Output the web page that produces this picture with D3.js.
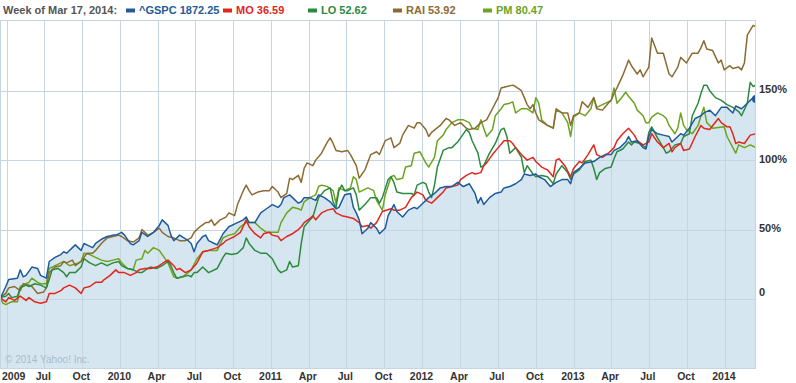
<!DOCTYPE html>
<html>
<head>
<meta charset="utf-8">
<script src="https://cdn.jsdelivr.net/npm/d3@7"></script>
<style>
  body { margin: 0; background: #fff; }
  svg { display: block; font-family: "Liberation Sans", Arial, sans-serif; }
  .grid-line { stroke: #c4d5e3; stroke-width: 1; shape-rendering: crispEdges; }
  .frame { fill: none; stroke: #c4d5e3; shape-rendering: crispEdges; }
  .axis-label { font-size: 10.5px; font-weight: bold; fill: #333; }
  .legend-text { font-size: 11px; font-weight: bold; }
</style>
</head>
<body>
<svg id="chart" width="796" height="383"></svg>
<script>
// weekly data, week 0 = week of Mar 16, 2009; values are % change
const weekStart = new Date(2009, 2, 16);
const weekEnd = new Date(2014, 2, 17);

const gspc = [[0,0],[2,9],[3,14],[6,15],[7,21],[8,16],[9,17],[11,23],[13,22],[14,17],[16,15],[17,27],[19,30],[21,32],[22,34],[23,33],[25,37],[26,39],[28,35],[29,40],[30,39],[32,37],[33,40],[35,43],[37,45],[39,46],[40,46],[42,48],[43,46],[45,40],[46,39],[48,42],[49,48],[51,45],[53,48],[55,53],[56,57],[58,53],[59,46],[60,42],[62,46],[65,42],[66,40],[67,34],[68,40],[70,45],[71,46],[72,42],[74,40],[75,39],[77,47],[79,52],[82,55],[84,57],[85,59],[86,55],[88,55],[90,62],[92,65],[94,68],[96,66],[97,68],[98,73],[100,75],[101,73],[103,69],[104,70],[105,73],[107,73],[109,71],[110,75],[112,73],[114,70],[116,65],[117,66],[119,75],[121,76],[122,66],[123,62],[124,57],[125,47],[127,51],[128,55],[130,51],[131,47],[133,51],[134,60],[136,68],[137,63],[139,59],[141,64],[143,66],[144,65],[146,69],[148,73],[150,76],[152,80],[154,81],[156,81],[158,84],[160,81],[162,83],[164,76],[165,69],[166,73],[167,68],[169,73],[171,76],[173,77],[174,80],[176,81],[178,83],[180,86],[181,90],[183,89],[185,90],[186,88],[188,86],[190,81],[192,84],[194,86],[196,86],[197,83],[198,91],[200,94],[202,98],[205,99],[207,102],[209,104],[211,104],[212,107],[214,109],[216,113],[217,117],[218,113],[220,114],[222,109],[223,108],[224,117],[225,122],[227,119],[229,118],[231,117],[232,113],[234,117],[235,119],[236,118],[238,123],[240,130],[242,132],[243,134],[245,136],[247,132],[249,138],[251,138],[253,134],[254,139],[256,137],[258,141],[260,145],[261,144]];

const mo = [[0,1],[2,-2],[3,1],[5,-1],[7,2],[9,-1],[10,1],[12,-2],[14,-3],[16,-2],[17,4],[19,4],[21,6],[22,8],[24,10],[26,8],[28,4],[29,8],[31,9],[33,12],[35,12],[36,14],[38,17],[40,21],[41,19],[43,19],[45,17],[47,19],[48,21],[50,22],[52,22],[54,23],[55,24],[57,27],[58,28],[60,24],[61,21],[62,22],[64,19],[66,21],[68,26],[70,34],[72,35],[75,37],[77,40],[78,42],[80,44],[81,45],[83,48],[85,57],[86,52],[88,47],[90,44],[91,47],[93,48],[94,46],[96,45],[97,42],[99,45],[101,47],[103,50],[104,52],[105,55],[107,58],[108,60],[109,57],[111,62],[113,64],[115,65],[116,62],[118,60],[120,59],[122,58],[124,55],[125,52],[127,53],[128,51],[130,55],[132,63],[135,65],[136,64],[138,64],[140,66],[142,73],[144,77],[146,75],[147,71],[149,69],[151,73],[153,77],[154,80],[156,81],[158,82],[159,86],[161,89],[163,91],[164,90],[166,91],[167,96],[168,98],[170,104],[172,109],[174,114],[176,114],[177,112],[178,109],[180,104],[181,102],[182,100],[184,102],[185,99],[187,95],[189,93],[191,88],[192,100],[193,101],[195,96],[197,88],[198,94],[200,99],[201,98],[203,104],[205,111],[206,104],[208,102],[210,105],[212,109],[213,114],[215,119],[217,123],[219,118],[220,114],[222,111],[224,113],[225,119],[227,113],[229,109],[231,112],[232,106],[233,109],[235,112],[236,107],[238,108],[240,117],[242,125],[243,123],[245,122],[248,130],[249,127],[251,124],[252,124],[253,119],[254,112],[255,113],[257,112],[259,118],[261,119]];

const lo = [[0,1],[2,2],[3,4],[4,1],[6,2],[7,8],[9,10],[10,9],[12,11],[14,10],[16,8],[17,14],[18,21],[20,22],[22,19],[23,16],[24,19],[26,19],[28,23],[29,29],[31,26],[33,24],[35,26],[37,24],[39,26],[41,27],[42,24],[44,22],[46,21],[48,19],[49,19],[51,22],[52,23],[54,22],[56,24],[58,27],[59,24],[60,19],[61,15],[63,16],[65,17],[66,16],[67,19],[68,19],[70,23],[72,19],[75,22],[77,30],[78,33],[80,32],[82,33],[84,37],[85,44],[86,40],[88,35],[90,33],[92,33],[94,29],[96,21],[97,19],[99,21],[100,27],[101,23],[103,24],[104,40],[105,52],[107,57],[108,59],[109,66],[110,73],[112,78],[114,80],[115,70],[116,66],[117,78],[118,82],[119,78],[120,78],[122,80],[123,75],[124,64],[126,68],[128,73],[130,73],[131,69],[132,73],[134,86],[135,88],[136,84],[137,77],[139,76],[142,76],[143,75],[144,82],[146,84],[147,83],[148,77],[149,73],[150,82],[151,95],[153,107],[155,109],[156,109],[158,113],[159,116],[161,122],[162,120],[163,114],[165,105],[166,95],[167,96],[169,105],[171,112],[173,122],[174,123],[175,117],[176,105],[178,109],[180,102],[181,91],[182,96],[184,90],[185,88],[187,89],[189,88],[191,83],[192,90],[194,96],[196,91],[197,86],[198,90],[200,93],[202,99],[204,100],[205,94],[206,86],[207,91],[209,94],[211,95],[212,101],[213,106],[215,108],[217,113],[218,111],[219,113],[221,112],[223,109],[224,120],[225,124],[227,116],[229,109],[230,105],[231,106],[233,111],[235,112],[236,117],[238,119],[239,132],[241,141],[242,148],[243,154],[244,154],[245,150],[247,145],[249,143],[251,140],[253,138],[255,135],[256,132],[258,141],[259,156],[260,153],[261,154]];

const rai = [[0,1],[2,4],[3,8],[5,9],[7,6],[8,11],[10,10],[11,9],[13,4],[15,5],[16,8],[17,19],[19,23],[21,24],[22,27],[23,26],[25,28],[26,24],[28,27],[29,30],[30,33],[32,33],[33,35],[35,40],[37,44],[39,45],[41,46],[42,45],[44,42],[46,41],[48,44],[49,50],[51,46],[53,48],[55,51],[56,48],[58,45],[60,44],[62,42],[64,42],[66,44],[67,48],[69,52],[71,55],[72,55],[73,57],[74,53],[76,57],[78,59],[79,62],[81,60],[82,68],[84,78],[85,82],[86,78],[87,75],[89,77],[91,78],[93,78],[94,81],[96,77],[97,73],[99,76],[100,87],[101,86],[103,89],[104,84],[105,94],[106,98],[108,96],[109,100],[111,105],[113,113],[114,116],[115,112],[116,107],[118,106],[120,107],[121,104],[123,96],[124,87],[126,93],[128,104],[130,106],[131,104],[133,114],[135,116],[136,109],[138,112],[139,118],[141,125],[143,123],[144,127],[145,127],[147,122],[148,117],[149,120],[152,125],[154,130],[155,129],[157,125],[159,127],[161,123],[162,122],[164,123],[166,127],[168,129],[170,137],[172,145],[173,152],[175,153],[177,154],[178,153],[180,150],[181,145],[182,140],[183,137],[184,140],[185,134],[186,129],[189,125],[191,123],[192,137],[194,134],[196,134],[197,125],[198,132],[200,134],[201,142],[203,138],[205,145],[206,137],[208,136],[210,141],[211,143],[212,148],[213,152],[215,161],[217,172],[218,168],[220,162],[221,165],[222,160],[224,167],[225,188],[227,177],[229,177],[231,162],[232,160],[234,167],[235,174],[237,170],[239,177],[241,177],[242,181],[243,186],[244,180],[246,179],[248,170],[249,172],[250,165],[252,168],[253,166],[255,167],[256,165],[257,170],[258,190],[260,197],[261,196]];

const pm = [[0,1],[1,-3],[2,-4],[4,-2],[6,-2],[7,9],[9,11],[10,12],[11,15],[13,12],[14,11],[16,11],[17,22],[19,24],[21,26],[22,27],[24,24],[27,26],[28,27],[29,33],[31,32],[33,30],[35,28],[37,27],[39,28],[41,29],[42,26],[44,22],[46,21],[47,28],[49,29],[50,35],[51,33],[53,37],[55,35],[56,32],[58,26],[60,16],[61,15],[63,16],[65,19],[66,21],[68,29],[70,34],[72,35],[75,35],[77,44],[79,46],[81,47],[83,52],[85,55],[86,55],[88,55],[90,51],[92,48],[94,48],[96,48],[97,55],[99,62],[101,66],[103,65],[104,64],[105,70],[107,73],[109,75],[110,81],[111,82],[113,81],[115,78],[116,69],[117,80],[119,78],[121,80],[122,88],[123,86],[124,77],[127,80],[129,78],[130,71],[132,64],[133,75],[135,88],[136,89],[137,86],[139,87],[140,95],[142,96],[143,105],[145,106],[146,102],[147,98],[148,95],[150,102],[151,114],[153,118],[154,122],[156,127],[158,129],[160,129],[162,127],[163,123],[165,122],[166,129],[167,123],[168,117],[170,122],[171,132],[173,137],[174,140],[176,141],[177,142],[178,134],[180,137],[182,137],[184,134],[185,145],[186,141],[187,129],[189,125],[191,123],[192,136],[194,134],[196,127],[197,117],[198,131],[200,134],[202,132],[204,137],[205,145],[206,138],[208,140],[210,142],[211,143],[212,152],[213,141],[215,146],[216,149],[217,146],[219,141],[220,136],[222,132],[223,127],[224,127],[225,131],[227,134],[229,132],[230,130],[231,125],[233,119],[234,123],[235,134],[236,125],[237,122],[239,119],[241,125],[242,132],[243,138],[244,127],[246,123],[250,124],[251,117],[254,105],[255,111],[257,109],[259,111],[261,109]];

const seriesNames = ["^GSPC", "MO", "LO", "RAI", "PM"];
const lastPrices = ["1872.25", "36.59", "52.62", "53.92", "80.47"];
const seriesColors = ["#1f5b98", "#e2261b", "#2c8a3d", "#8c6b33", "#6ca31f"];
const legendTitle = "Week of Mar 17, 2014:";

const xTickLabels = ["2009","Jul","Oct","2010","Apr","Jul","Oct","2011","Apr","Jul","Oct","2012","Apr","Jul","Oct","2013","Apr","Jul","Oct","2014"];
const yTicks = [0, 50, 100, 150];
const yTickLabels = ["0", "50%", "100%", "150%"];

const allSeries = [gspc, mo, lo, rai, pm];

const plot = { left: 0, right: 755, top: 20, bottom: 368 };

const svg = d3.select("#chart");

const x = d3.scaleTime().domain([weekStart, weekEnd]).range([0, 756]);
const y = d3.scaleLinear().domain([0, 150]).range([299, 90.7]);
const toDate = w => d3.timeWeek.offset(weekStart, w);

// background
svg.append("rect").attr("x", 0).attr("y", 0).attr("width", 796).attr("height", 383).attr("fill", "#fff");

svg.append("clipPath").attr("id", "plot-clip")
  .append("rect")
  .attr("x", plot.left).attr("y", plot.top)
  .attr("width", plot.right - plot.left).attr("height", plot.bottom - plot.top);

const g = svg.append("g").attr("clip-path", "url(#plot-clip)");

// area under the index
const area = d3.area()
  .x(d => x(toDate(d[0])))
  .y0(plot.bottom)
  .y1(d => y(d[1]));
g.append("path").datum(gspc).attr("d", area).attr("fill", "#d6e6f1");

// grid
const xTicks = d3.timeMonth.every(3).range(new Date(2009, 3, 1), weekEnd);
g.selectAll("line.vgrid").data(xTicks).join("line")
  .attr("class", "grid-line vgrid")
  .attr("x1", d => Math.round(x(d)) + 0.5).attr("x2", d => Math.round(x(d)) + 0.5)
  .attr("y1", plot.top).attr("y2", plot.bottom);

g.selectAll("line.hgrid").data(yTicks).join("line")
  .attr("class", "grid-line hgrid")
  .attr("x1", plot.left).attr("x2", plot.right)
  .attr("y1", d => Math.round(y(d)) + 0.5).attr("y2", d => Math.round(y(d)) + 0.5);

// lines, index on top
const line = d3.line()
  .x(d => x(toDate(d[0])))
  .y(d => y(d[1]));

d3.range(allSeries.length - 1, -1, -1).forEach(i => {
  g.append("path").datum(allSeries[i])
    .attr("d", line)
    .attr("fill", "none")
    .attr("stroke", seriesColors[i])
    .attr("stroke-width", 1.5)
    .attr("stroke-linejoin", "round");
});

const lastG = gspc[gspc.length - 1];
g.append("circle")
  .attr("cx", x(toDate(lastG[0]))).attr("cy", y(lastG[1]))
  .attr("r", 4).attr("fill", seriesColors[0]);

// copyright
svg.append("text")
  .attr("x", 5).attr("y", 363)
  .attr("font-size", 10).attr("fill", "#a9bccb")
  .text("\u00a9 2014 Yahoo! Inc.");

// frame
svg.append("rect").attr("class", "frame")
  .attr("x", plot.left + 0.5).attr("y", plot.top + 0.5)
  .attr("width", plot.right - plot.left).attr("height", plot.bottom - plot.top);

// x axis labels
svg.selectAll("text.xlab").data(xTicks).join("text")
  .attr("class", "axis-label xlab")
  .attr("x", (d, i) => i === 0 ? 2 : x(d) - 1)
  .attr("y", 380)
  .attr("text-anchor", (d, i) => i === 0 ? "start" : "middle")
  .text((d, i) => xTickLabels[i]);

// y axis labels (right side)
svg.selectAll("text.ylab").data(yTicks).join("text")
  .attr("class", "axis-label ylab")
  .attr("x", 759)
  .attr("y", d => d === 0 ? y(d) - 3 : y(d) + 2.5)
  .attr("font-size", 11)
  .style("font-size", "11px")
  .text((d, i) => yTickLabels[i]);

// legend
const legendX = [126, 223, 308, 393, 483];
svg.append("text").attr("class", "legend-text")
  .attr("x", 3).attr("y", 14).attr("fill", "#555")
  .text(legendTitle);

seriesNames.forEach((name, i) => {
  svg.append("rect")
    .attr("x", legendX[i]).attr("y", 8.5)
    .attr("width", 9).attr("height", 4)
    .attr("fill", seriesColors[i]);
  svg.append("text").attr("class", "legend-text")
    .attr("x", legendX[i] + 13).attr("y", 14)
    .attr("fill", seriesColors[i])
    .text(name + " " + lastPrices[i]);
});
</script>
</body>
</html>
